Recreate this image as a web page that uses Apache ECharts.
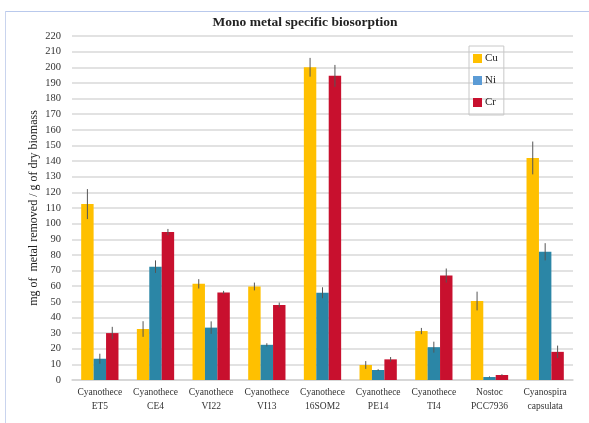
<!DOCTYPE html>
<html>
<head>
<meta charset="utf-8">
<script src="https://cdn.jsdelivr.net/npm/echarts@6/dist/echarts.min.js"></script>
<style>html,body{margin:0;padding:0;background:#fff;}#c{width:589px;height:423px;}</style>
</head>
<body>
<div id="c"></div>
<script>
var categories = ['Cyanothece\nET5','Cyanothece\nCE4','Cyanothece\nVI22','Cyanothece\nVI13','Cyanothece\n16SOM2','Cyanothece\nPE14','Cyanothece\nTI4','Nostoc\nPCC7936','Cyanospira\ncapsulata'];
var cuValues = [112.5, 32.6, 61.5, 59.8, 200, 9.6, 31.3, 50.5, 142];
var cuErrors = [9.6, 5, 3, 2.5, 6, 2.5, 2, 6, 10.5];
var niValues = [13.6, 72.5, 33.5, 22.5, 55.8, 6.4, 21, 1.9, 82];
var niErrors = [3.2, 4, 4, 1, 3.5, 0.5, 3.5, 0.4, 5.5];
var crValues = [30, 94.6, 56, 48, 194.5, 13.2, 66.8, 3.2, 18];
var crErrors = [4, 2, 1, 1.5, 7, 1.5, 4.5, 0.5, 4];
var seriesNames = ['Cu','Ni','Cr'];
var yTicks = {min: 0, max: 220, interval: 10};

var colors = ['#FFC000', '#2B86A6', '#C8102E'];
var legendColors = ['#FFC000', '#5B9BD5', '#C8102E'];
var gapRatio = 0.33;
var serif = '"Liberation Serif", "DejaVu Serif", serif';

function errData(vals, errs) {
  return vals.map(function (v, i) { return [i, v - errs[i], v + errs[i]]; });
}
function errSeries(idx, vals, errs) {
  return {
    type: 'custom',
    name: seriesNames[idx] + ' err',
    data: errData(vals, errs),
    z: 5,
    silent: true,
    encode: {x: 0, y: [1, 2]},
    renderItem: function (params, api) {
      var i = api.value(0);
      var lo = api.coord([i, api.value(1)]);
      var hi = api.coord([i, api.value(2)]);
      var band = api.size([1, 0])[0];
      var bw = band * (1 - gapRatio) / 3;
      var x = lo[0] + (idx - 1) * bw;
      return {
        type: 'line',
        shape: {x1: x, y1: lo[1], x2: x, y2: hi[1]},
        style: {stroke: '#555', lineWidth: 1}
      };
    }
  };
}

var allVals = [cuValues, niValues, crValues];
var allErrs = [cuErrors, niErrors, crErrors];
var series = [];
for (var s = 0; s < 3; s++) {
  series.push({
    type: 'bar',
    name: seriesNames[s],
    data: allVals[s],
    barGap: '0%',
    barCategoryGap: (gapRatio * 100) + '%',
    itemStyle: {color: colors[s]}
  });
}
for (var s2 = 0; s2 < 3; s2++) series.push(errSeries(s2, allVals[s2], allErrs[s2]));

var chart = echarts.init(document.getElementById('c'), null, {renderer: 'canvas'});
chart.setOption({
  animation: false,
  backgroundColor: '#fff',
  title: {
    text: 'Mono metal specific biosorption',
    left: 300, top: 11, textAlign: 'center',
    textStyle: {fontFamily: serif, fontSize: 13.5, fontWeight: 'bold', color: '#222'}
  },
  legend: {
    data: seriesNames.map(function (n, i) { return {name: n, itemStyle: {color: legendColors[i]}}; }),
    orient: 'vertical',
    left: 469, top: 46,
    width: 37,
    padding: [7, 6, 7, 4],
    itemGap: 11,
    itemWidth: 9, itemHeight: 9,
    icon: 'rect',
    borderColor: '#c8c8c8', borderWidth: 1,
    textStyle: {fontFamily: serif, fontSize: 11, color: '#222', padding: [0, 0, 0, -2]}
  },
  graphic: [
    {type: 'line', shape: {x1: 5, y1: 11.5, x2: 589, y2: 11.5}, style: {stroke: '#b9c9ec', lineWidth: 1}},
    {type: 'line', shape: {x1: 5.5, y1: 11, x2: 5.5, y2: 423}, style: {stroke: '#c9d4ee', lineWidth: 1}}
  ],
  grid: {left: 72, right: 16, top: 36, bottom: 43},
  xAxis: {
    type: 'category',
    data: categories,
    axisLine: {lineStyle: {color: '#d4d4d4', width: 1.5}},
    axisTick: {show: false},
    axisLabel: {fontFamily: serif, fontSize: 9.5, color: '#333', lineHeight: 14, margin: 5, interval: 0}
  },
  yAxis: {
    type: 'value',
    min: yTicks.min, max: yTicks.max, interval: yTicks.interval,
    name: 'mg of  metal removed / g of dry biomass',
    nameLocation: 'middle',
    nameGap: 32,
    nameMoveOverlap: false,
    nameTextStyle: {fontFamily: serif, fontSize: 12, color: '#222'},
    axisLine: {show: false},
    axisTick: {show: false},
    axisLabel: {fontFamily: serif, fontSize: 10.5, color: '#333', margin: 11},
    splitLine: {lineStyle: {color: '#d9d9d9', width: 1.5}}
  },
  series: series
});
</script>
</body>
</html>
